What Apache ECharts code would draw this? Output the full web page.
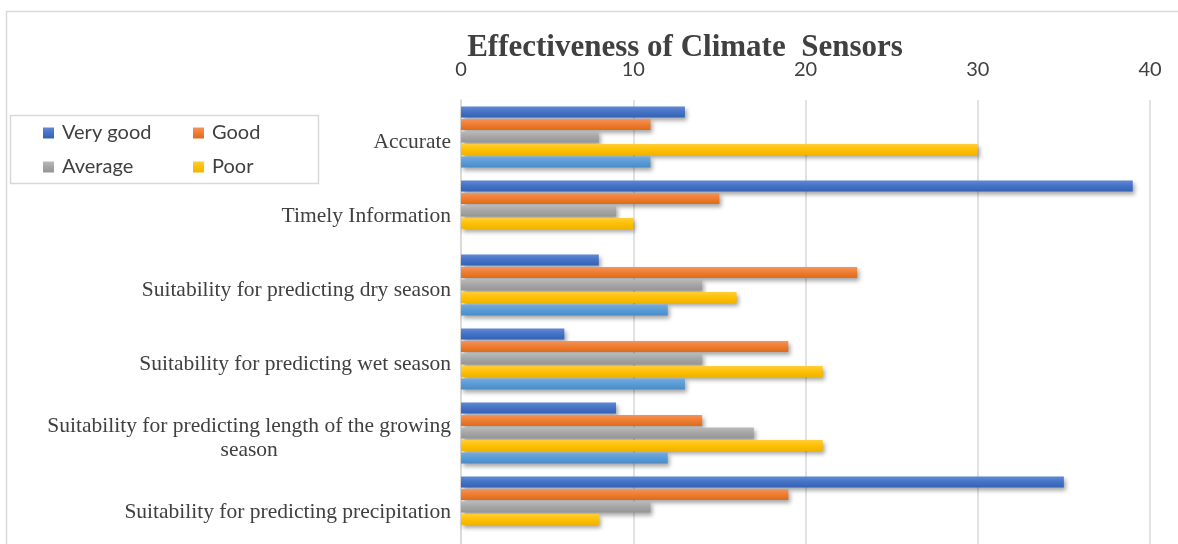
<!DOCTYPE html>
<html>
<head>
<meta charset="utf-8">
<script src="https://cdn.jsdelivr.net/npm/echarts@6/dist/echarts.min.js"></script>
<style>
  html, body { margin: 0; padding: 0; background: #fff; }
  #chart { width: 1178px; height: 544px; }
</style>
</head>
<body>
<div id="chart"></div>
<script>
// Survey results: how respondents rated climate sensors on each criterion
const categories = [
  'Accurate',
  'Timely Information',
  'Suitability for predicting dry season',
  'Suitability for predicting wet season',
  'Suitability for predicting length of the growing season',
  'Suitability for predicting precipitation'
];
const veryGood = [13, 39, 8, 6, 9, 35];
const good     = [11, 15, 23, 19, 14, 19];
const average  = [8, 9, 14, 14, 17, 11];
const poor     = [30, 10, 16, 21, 21, 8];
const series5  = [11, 0, 12, 13, 12, null];
const xTicks = [0, 10, 20, 30, 40];

const legendLeft = ['Very good', 'Average'];
const legendRight = ['Good', 'Poor'];

function grad(top, mid, bottom) {
  return new echarts.graphic.LinearGradient(0, 0, 0, 1, [
    { offset: 0, color: top },
    { offset: 0.5, color: mid },
    { offset: 1, color: bottom }
  ]);
}

const palette = {
  'Very good': grad('#6189d6', '#4472c4', '#3562b6'),
  'Good': grad('#f6925a', '#ed7d31', '#e06a1c'),
  'Average': grad('#b9b9b9', '#a5a5a5', '#959595'),
  'Poor': grad('#ffcd3a', '#ffc000', '#f0b400'),
  'Series 5': grad('#72abe0', '#5b9bd5', '#4a8bc8')
};

function makeSeries(name, data) {
  return {
    name: name,
    type: 'bar',
    data: data,
    barWidth: 11,
    barGap: '14%',
    itemStyle: {
      color: palette[name],
      shadowColor: 'rgba(0,0,0,0.35)',
      shadowBlur: 4,
      shadowOffsetX: 2,
      shadowOffsetY: 3
    }
  };
}

const legendText = {
  fontFamily: 'Lato, sans-serif',
  fontSize: 20,
  color: '#404040',
  lineHeight: 22,
  padding: [0, 0, 0, 3]
};

const labelFont = '"Liberation Serif", "Times New Roman", serif';

const chart = echarts.init(document.getElementById('chart'), null, { renderer: 'canvas' });
chart.setOption({
  animation: false,
  backgroundColor: '#ffffff',
  title: {
    text: 'Effectiveness of Climate  Sensors',
    left: 685,
    textAlign: 'center',
    top: 32,
    padding: 0,
    textStyle: {
      fontFamily: labelFont,
      fontWeight: 'bold',
      fontSize: 31,
      color: '#404040'
    }
  },
  graphic: [
    { type: 'rect', z: -10, shape: { x: 6.5, y: 11.5, width: 1300, height: 700 },
      style: { fill: null, stroke: '#d9d9d9', lineWidth: 1.5 } },
    { type: 'rect', z: -10, shape: { x: 10.5, y: 115.5, width: 308, height: 68 },
      style: { fill: '#fff', stroke: '#d9d9d9', lineWidth: 1.5 } }
  ],
  legend: [
    { data: legendLeft, orient: 'vertical', left: 43, top: 122, padding: 0, icon: 'rect',
      itemWidth: 11, itemHeight: 11, itemGap: 12, textStyle: legendText },
    { data: legendRight, orient: 'vertical', left: 193, top: 122, padding: 0, icon: 'rect',
      itemWidth: 11, itemHeight: 11, itemGap: 12, textStyle: legendText }
  ],
  grid: { left: 461, top: 100, width: 689, height: 450, containLabel: false },
  xAxis: {
    type: 'value',
    position: 'top',
    min: xTicks[0],
    max: xTicks[xTicks.length - 1],
    interval: 10,
    axisLine: { show: false },
    axisTick: { show: false },
    axisLabel: {
      margin: 20,
      fontFamily: 'Lato, sans-serif',
      fontSize: 20,
      color: '#404040'
    },
    splitLine: { lineStyle: { color: '#d9d9d9', width: 1.5 } }
  },
  yAxis: {
    type: 'category',
    data: categories,
    inverse: true,
    axisLine: { show: true, lineStyle: { color: '#d9d9d9', width: 1.5 } },
    axisTick: { show: false },
    axisLabel: {
      margin: 10,
      fontFamily: labelFont,
      fontSize: 21.5,
      color: '#404040',
      lineHeight: 24,
      padding: [10, 0, 0, 0],
      formatter: function (v) {
        if (v === 'Suitability for predicting length of the growing season') {
          return '{a|Suitability for predicting length of the growing}\n{c|season}';
        }
        return v;
      },
      rich: {
        a: { fontFamily: labelFont, fontSize: 21.5, color: '#404040', lineHeight: 24 },
        c: { fontFamily: labelFont, fontSize: 21.5, color: '#404040', lineHeight: 24, align: 'center' }
      }
    }
  },
  series: [
    makeSeries('Very good', veryGood),
    makeSeries('Good', good),
    makeSeries('Average', average),
    makeSeries('Poor', poor),
    makeSeries('Series 5', series5)
  ]
});
</script>
</body>
</html>
